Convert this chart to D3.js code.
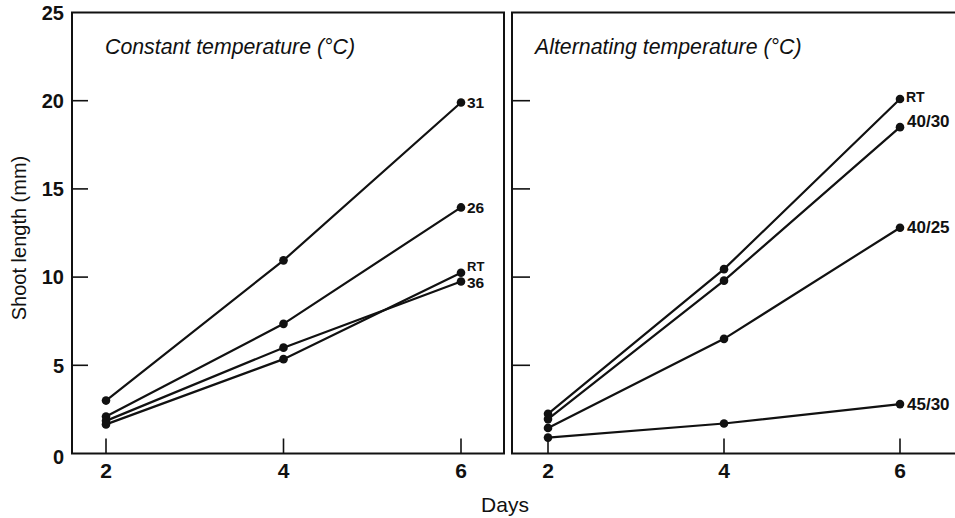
<!DOCTYPE html>
<html>
<head>
<meta charset="utf-8">
<script src="https://cdn.jsdelivr.net/npm/d3@7"></script>
<style>
  body { margin: 0; background: #fff; }
  svg { display: block; }
  text { font-family: "Liberation Sans", Arial, sans-serif; fill: #111; }
</style>
</head>
<body>
<svg id="chart"></svg>
<script>
// data
var days = [2, 4, 6];
var yTicks = [0, 5, 10, 15, 20, 25];
var yInnerTicks = [5, 10, 15, 20];

var constantNames = ["31", "26", "RT", "36"];
var const31 = [3.0, 10.95, 19.9];
var const26 = [2.1, 7.35, 13.95];
var constRT = [1.65, 5.35, 10.25];
var const36 = [1.85, 6.0, 9.75];

var altNames = ["RT", "40/30", "40/25", "45/30"];
var altRT = [2.25, 10.45, 20.1];
var alt4030 = [1.95, 9.8, 18.5];
var alt4025 = [1.45, 6.5, 12.8];
var alt4530 = [0.9, 1.7, 2.8];

var width = 955, height = 518;
var svg = d3.select("#chart").attr("width", width).attr("height", height);

var y = d3.scaleLinear().domain([0, 25]).range([453.5, 12.5]);

// label nudges for the end labels (pixels)
var labelNudge = {
    "const-RT": { dx: 6, dy: -6, size: 13 },
    "const-36": { dx: 6, dy: 1, size: 15.5 },
    "alt-RT": { dx: 6, dy: -2, size: 14 },
    "alt-40/30": { dx: 7, dy: -6, size: 17 },
    "alt-40/25": { dx: 7, dy: -1, size: 17 },
    "alt-45/30": { dx: 7, dy: 0, size: 17 }
};

function drawPanel(opts) {
    var x = d3.scaleLinear().domain([2, 6]).range(opts.xr);
    var g = svg.append("g");

    // frame
    g.append("rect")
        .attr("x", opts.left).attr("y", y(25))
        .attr("width", opts.right - opts.left)
        .attr("height", y(0) - y(25))
        .attr("fill", "none").attr("stroke", "#111").attr("stroke-width", 2);

    // inward y ticks
    g.selectAll(".yt").data(yInnerTicks).enter().append("line")
        .attr("x1", opts.left).attr("x2", opts.left + opts.tickLen)
        .attr("y1", function(d) { return y(d); })
        .attr("y2", function(d) { return y(d); })
        .attr("stroke", "#111").attr("stroke-width", 1.6);

    // inward x ticks
    g.selectAll(".xt").data(days).enter().append("line")
        .attr("x1", function(d) { return x(d); })
        .attr("x2", function(d) { return x(d); })
        .attr("y1", y(0)).attr("y2", y(0) - 15)
        .attr("stroke", "#111").attr("stroke-width", 1.6);

    g.selectAll(".xl").data(days).enter().append("text")
        .attr("x", function(d) { return x(d); })
        .attr("y", 478)
        .attr("text-anchor", "middle")
        .attr("font-size", 21).attr("font-weight", "bold")
        .text(function(d) { return d; });

    g.append("text")
        .attr("x", opts.titleX).attr("y", 54)
        .attr("font-size", 21.3).attr("font-style", "italic")
        .text(opts.title);

    var line = d3.line()
        .x(function(d, i) { return x(days[i]); })
        .y(function(d) { return y(d); });

    opts.series.forEach(function(vals, k) {
        var name = opts.names[k];
        g.append("path")
            .attr("d", line(vals))
            .attr("fill", "none").attr("stroke", "#111").attr("stroke-width", 2.2);
        g.selectAll(null).data(vals).enter().append("circle")
            .attr("cx", function(d, i) { return x(days[i]); })
            .attr("cy", function(d) { return y(d); })
            .attr("r", 4.3).attr("fill", "#111");
        var nudge = labelNudge[opts.key + "-" + name] || { dx: 6, dy: 0, size: 15.5 };
        g.append("text")
            .attr("x", x(6) + nudge.dx)
            .attr("y", y(vals[2]) + nudge.dy)
            .attr("dy", "0.36em")
            .attr("font-size", nudge.size).attr("font-weight", "bold")
            .text(name);
    });
}

drawPanel({
    key: "const", left: 72, right: 504, xr: [106, 461], tickLen: 16,
    titleX: 105, title: "Constant temperature (°C)",
    names: constantNames, series: [const31, const26, constRT, const36]
});

drawPanel({
    key: "alt", left: 512, right: 965, xr: [548, 900], tickLen: 18,
    titleX: 535, title: "Alternating temperature (°C)",
    names: altNames, series: [altRT, alt4030, alt4025, alt4530]
});

// y tick labels on the left panel
svg.selectAll(".yl").data(yTicks).enter().append("text")
    .attr("x", 64)
    .attr("y", function(d) { return y(d); })
    .attr("dy", function(d) { return d === 0 ? "0.5em" : "0.36em"; })
    .attr("text-anchor", "end")
    .attr("font-size", 20).attr("font-weight", "bold")
    .text(function(d) { return d; });

svg.append("text")
    .attr("transform", "translate(26,238) rotate(-90)")
    .attr("text-anchor", "middle")
    .attr("font-size", 20)
    .text("Shoot length (mm)");

svg.append("text")
    .attr("x", 505).attr("y", 512)
    .attr("text-anchor", "middle")
    .attr("font-size", 21)
    .text("Days");
</script>
</body>
</html>
